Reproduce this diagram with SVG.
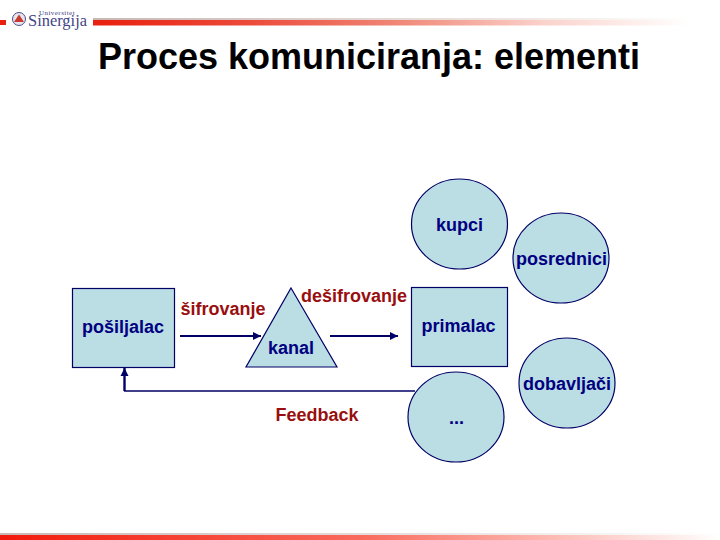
<svg xmlns="http://www.w3.org/2000/svg" width="720" height="540" viewBox="0 0 720 540">
<style>
text{font-family:"Liberation Sans",Arial,sans-serif;font-weight:bold}
.s{fill:#bbdde4;stroke:#000066;stroke-width:1.2}
.n{fill:#000080;font-size:18px;text-anchor:middle}
.r{fill:#990f0f;font-size:18px;text-anchor:middle}
.c{fill:none;stroke:#000066;stroke-width:1.5}
.l{font-family:"Liberation Serif",serif;font-weight:normal;fill:#3f4585}
</style>
<defs>
<linearGradient id="hbar" x1="0" x2="1" y1="0" y2="0"><stop offset="0" stop-color="#e8200f"/><stop offset=".25" stop-color="#ec4a3a"/><stop offset=".49" stop-color="#f08878"/><stop offset=".72" stop-color="#fbd2cc"/><stop offset=".95" stop-color="#ffffff"/></linearGradient>
<linearGradient id="hTop" x1="0" x2="1" y1="0" y2="0"><stop offset="0" stop-color="#c8b8b4"/><stop offset=".7" stop-color="#f0e8e4"/><stop offset=".95" stop-color="#ffffff"/></linearGradient>
<linearGradient id="bar" x1="0" x2="1" y1="0" y2="0"><stop offset="0" stop-color="#f21a0a"/><stop offset=".5" stop-color="#f96a5c"/><stop offset="1" stop-color="#ffffff"/></linearGradient>
<linearGradient id="barTop" x1="0" x2="1" y1="0" y2="0"><stop offset="0" stop-color="#c8b8b4"/><stop offset="1" stop-color="#ffffff"/></linearGradient>
<marker id="a" markerUnits="userSpaceOnUse" markerWidth="9" markerHeight="10" refX="8" refY="5" orient="auto"><path d="M0 1L8 5L0 9z" fill="#000066"/></marker>
</defs>
<rect width="720" height="540" fill="#fff"/>
<g id="header">
<rect x="0" y="20" width="6" height="5" fill="#e8200f"/>
<rect x="93" y="18" width="627" height="3" fill="url(#hTop)"/>
<rect x="93" y="20" width="627" height="5.500" fill="url(#hbar)"/>
<circle cx="19" cy="19" r="6.500" fill="#e8e4ee" stroke="#4a4f86"/>
<path d="M19 14.500L24 22H14z" fill="#c8392f"/>
<text class="l" x="39" y="14.500" style="font-size:7px;letter-spacing:.45px">Universitet</text>
<text class="l" x="28" y="25.500" style="font-size:17px" textLength="59" lengthAdjust="spacingAndGlyphs">Sinergija</text>
</g>
<g id="footer">
<rect x="0" y="533" width="720" height="2" fill="url(#barTop)"/>
<rect x="0" y="535" width="720" height="5" fill="url(#bar)"/>
</g>
<text id="title" x="369" y="69" text-anchor="middle" style="font-size:36px">Proces komuniciranja: elementi</text>
<g id="connectors">
<path class="c" d="M180 336H261" style="stroke-width:2" marker-end="url(#a)"/>
<path class="c" d="M330 336H398" style="stroke-width:2" marker-end="url(#a)"/>
<path class="c" d="M415 391H124"/>
<path class="c" d="M124.500 391V368" style="stroke-width:2.400" marker-end="url(#a)"/>
</g>
<g id="posiljalac"><rect class="s" x="72.500" y="288.500" width="102" height="79"/><text class="n" x="123" y="333">pošiljalac</text></g>
<g id="kanal"><path class="s" d="M291 288L337 367H246z"/><text class="n" x="291" y="354">kanal</text></g>
<g id="primalac"><rect class="s" x="411.500" y="287.500" width="96" height="79"/><text class="n" x="458.500" y="332">primalac</text></g>
<g id="kupci"><ellipse class="s" cx="459.500" cy="224" rx="48" ry="45"/><text class="n" x="459.500" y="231">kupci</text></g>
<g id="posrednici"><ellipse class="s" cx="561" cy="258" rx="48" ry="45"/><text class="n" x="561.500" y="265">posrednici</text></g>
<g id="dobavljaci"><ellipse class="s" cx="567" cy="383" rx="48" ry="45"/><text class="n" x="567" y="390">dobavljači</text></g>
<g id="ostalo"><ellipse class="s" cx="456" cy="417" rx="48" ry="45"/><text class="n" x="456.500" y="424">...</text></g>
<text class="r" x="223" y="315">šifrovanje</text>
<text class="r" x="354" y="302">dešifrovanje</text>
<text class="r" x="317" y="421">Feedback</text>
</svg>
